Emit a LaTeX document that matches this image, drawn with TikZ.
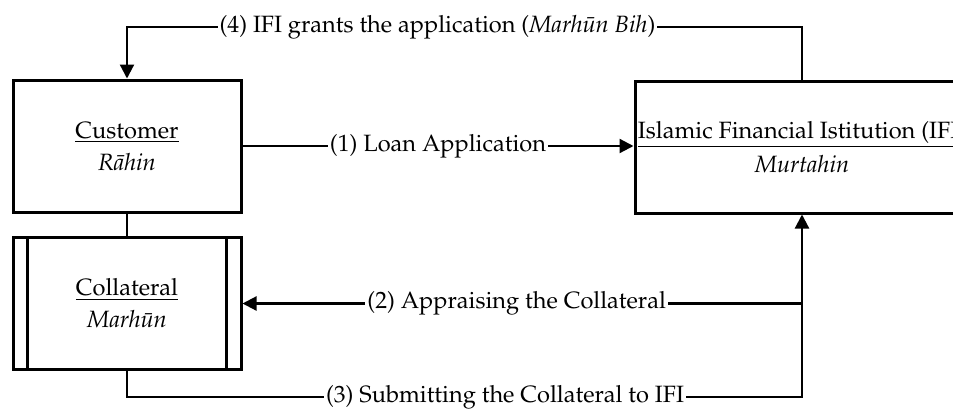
\documentclass[tikz,border=0pt]{standalone}
\usepackage[T1]{fontenc}
\usepackage{mathpazo}
\usetikzlibrary{arrows.meta, positioning, calc}
\tikzset{
  box/.style={draw, line width=1.5pt, minimum width=114pt, minimum height=66pt, align=center, inner sep=0pt},
  link/.style={line width=1.1pt},
  tip/.style={-{Triangle[length=7pt,width=7pt]}},
  lbl/.style={fill=white, inner sep=1pt},
}

\begin{document}
\begin{tikzpicture}[x=0.5pt, y=-0.5pt, font=\fontsize{11.8}{13}\selectfont]
  \useasboundingbox (0,0) rectangle (953,408);

  % Parties
  \node[box] (cust) at (127,146) {\underline{Customer}\\[3pt]\textit{R\=ahin}};
  \node[box] (coll) at (127,303.5) {\underline{Collateral}\\[3pt]\textit{Marh\=un}};
  \node[box, minimum width=167pt] (ifi) at (802,147) {\underline{Islamic Financial Istitution (IFI)}\\[3pt]\textit{Murtahin}};
  \draw[line width=1.5pt] ([xshift=8pt]coll.north west) -- ([xshift=8pt]coll.south west);
  \draw[line width=1.5pt] ([xshift=-8pt]coll.north east) -- ([xshift=-8pt]coll.south east);

  % Route levels
  \coordinate (t4) at (0,27);
  \coordinate (b3) at (0,397);

  % Steps
  \draw[link] (cust) -- (coll);
  \draw[link, tip] (cust.east) -- node[lbl] {(1) Loan Application} (ifi.west |- cust.east);
  \draw[link, tip] (ifi.south |- coll.east) -- node[lbl, pos=0.51] {(2) Appraising the Collateral} (coll.east);
  \draw[link, tip] (coll.south) |- node[lbl, pos=0.78] {(3) Submitting the Collateral to IFI} (ifi.south |- b3) -- (ifi.south);
  \draw[link, tip] (ifi.north) |- node[lbl, pos=0.77] {(4) IFI grants the application (\textit{Marh\=un Bih})} (cust.north |- t4) -- (cust.north);
\end{tikzpicture}
\end{document}
